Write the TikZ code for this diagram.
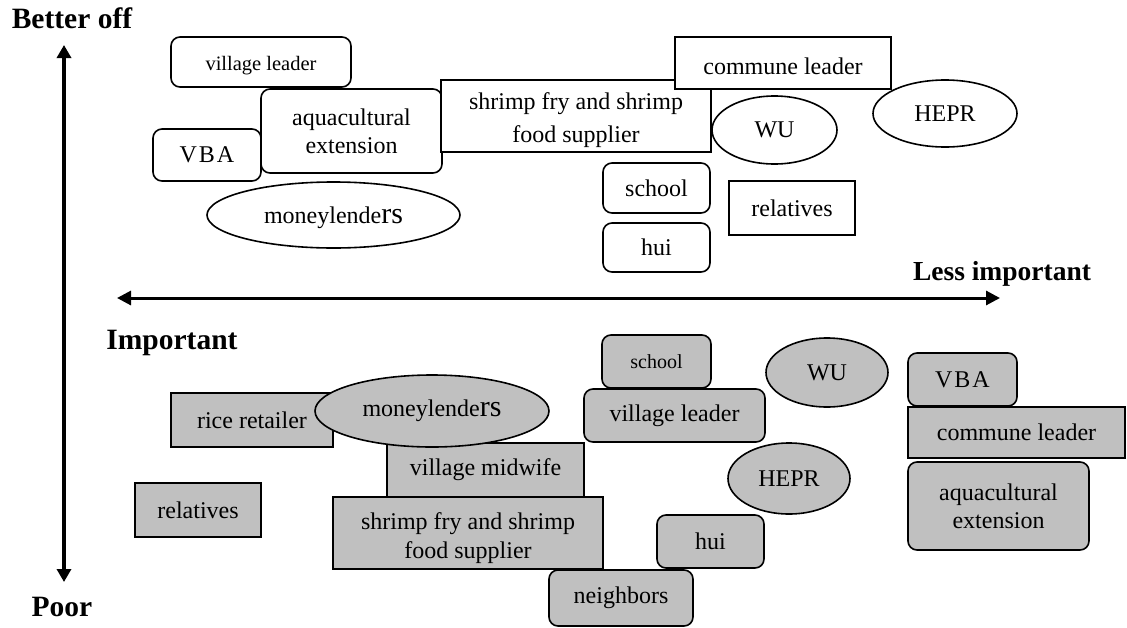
\documentclass[tikz,border=0pt]{standalone}
\usepackage{fontspec}
\setmainfont{Liberation Serif}
\usetikzlibrary{shapes.geometric,arrows.meta}
\definecolor{boxgray}{RGB}{192,192,192}
\newcommand\dropby[2]{\raisebox{-#1}[\height][\depth]{#2}}
\begin{document}
\begin{tikzpicture}[x=1pt,y=-1pt,
  base/.style={draw=black,line width=1.6pt,align=center,inner sep=0pt,font=\fontsize{24}{28}\selectfont},
  wrect/.style={base,fill=white,rectangle},
  wround/.style={base,fill=white,rectangle,rounded corners=9pt},
  well/.style={base,fill=white,ellipse},
  grect/.style={base,fill=boxgray,rectangle},
  ground/.style={base,fill=boxgray,rectangle,rounded corners=9pt},
  gell/.style={base,fill=boxgray,ellipse},
  lab/.style={font=\bfseries\fontsize{29.5}{31}\selectfont,inner sep=0pt},
  sz/.style n args={2}{minimum width=#1,minimum height=#2}
]
\useasboundingbox (0,0) rectangle (1127,627);

% axes
\coordinate (vtop) at (64,45);
\coordinate (vbot) at (64,582);
\coordinate (hleft) at (117,298);
\coordinate (hright) at (1000,298);
\draw[line width=4pt,{Triangle[length=13pt,width=14pt]}-{Triangle[length=13pt,width=14pt]}] (vtop) -- (vbot);
\draw[line width=3pt,{Triangle[length=14pt,width=14pt]}-{Triangle[length=14pt,width=14pt]}] (hleft) -- (hright);

\node[lab] (better) at (72,18) {Better off};
\node[lab,font=\bfseries\fontsize{27.5}{29}\selectfont] (less) at (1002,274) {Less important};
\node[lab] (imp) at (172,343) {Important};
\node[lab] (poor) at (62,607) {Poor};

% top (better off)
\node[wround,sz={180}{50},font=\fontsize{20.5}{22}\selectfont] (vlT) at (261,62) {\dropby{4pt}{village leader}};
\node[wround,sz={108}{52}] (vbaT) at (207,155) {V\kern2pt B\kern2pt A};
\node[wround,sz={181}{84}] (aqT) at (351.5,131) {aquacultural\\extension};
\node[wrect,sz={270}{72}] (shT) at (576,116) {\dropby{4pt}{\begin{tabular}{@{}c@{}}shrimp fry and shrimp\\[5pt]food supplier\end{tabular}}};
\node[well,sz={253}{66}] (mlT) at (333.5,215) {\dropby{3pt}{moneylende{\fontsize{30}{30}\selectfont rs}}};
\node[wrect,sz={216}{52}] (clT) at (783,63) {\dropby{3pt}{commune leader}};
\node[well,sz={125}{68}] (wuT) at (774.5,130) {WU};
\node[well,sz={144}{67}] (heT) at (945,113.5) {HEPR};
\node[wround,sz={107}{50}] (scT) at (656.5,188) {school};
\node[wrect,sz={126}{54}] (reT) at (792,208) {relatives};
\node[wround,sz={107}{49}] (huT) at (656.5,247.5) {hui};

% bottom (poor)
\node[grect,sz={162}{54}] (rrB) at (252,420) {rice retailer};
\node[grect,sz={197}{54}] (vmB) at (485.5,470) {village midwife};
\node[gell,sz={234}{72}] (mlB) at (432,411) {moneylende{\fontsize{30}{30}\selectfont rs}};
\node[grect,sz={270}{72}] (shB) at (468,533) {\dropby{5pt}{\begin{tabular}{@{}c@{}}shrimp fry and shrimp\\[1pt]food supplier\end{tabular}}};
\node[grect,sz={126}{54}] (reB) at (198,510) {relatives};
\node[ground,sz={109}{53},font=\fontsize{20}{22}\selectfont] (scB) at (656.5,361.5) {school};
\node[ground,sz={181}{53}] (vlB) at (674.5,415.5) {village leader};
\node[gell,sz={122}{69}] (wuB) at (827,372.5) {WU};
\node[gell,sz={122}{71}] (heB) at (789,478.5) {HEPR};
\node[ground,sz={107}{53}] (huB) at (710.5,541.5) {hui};
\node[ground,sz={144}{56}] (neB) at (621,598) {neighbors};
\node[ground,sz={109}{53}] (vbaB) at (962.5,379.5) {V\kern2pt B\kern2pt A};
\node[grect,sz={217}{51}] (clB) at (1016.5,432.5) {commune leader};
\node[ground,sz={181}{88}] (aqB) at (998.5,506) {aquacultural\\extension};
\end{tikzpicture}
\end{document}
